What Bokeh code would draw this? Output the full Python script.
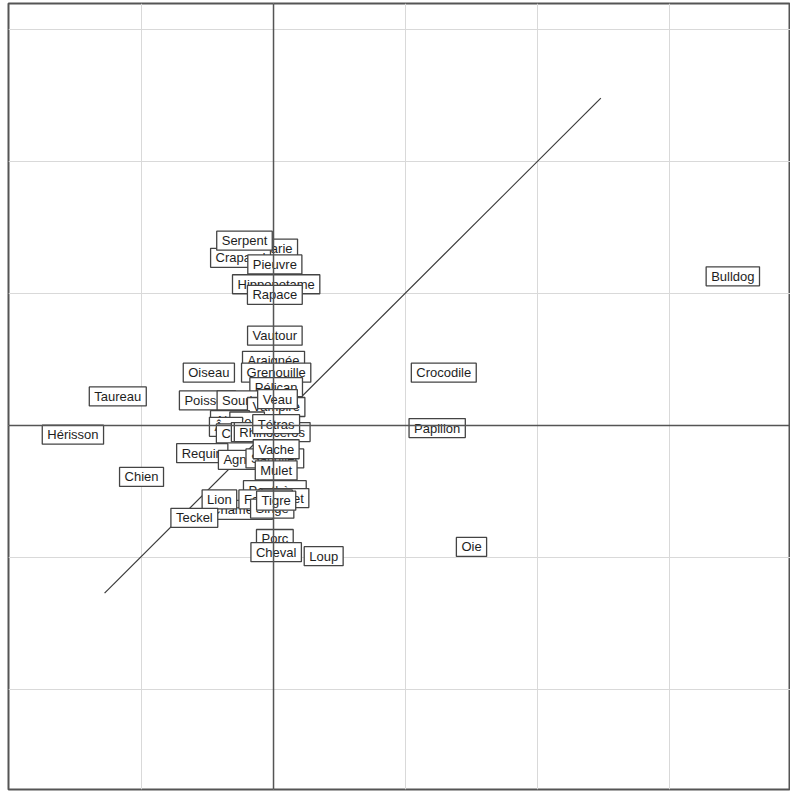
from bokeh.plotting import figure
from bokeh.models import ColumnDataSource, Span, FixedTicker, Range1d
from bokeh.core.properties import value
from bokeh.embed import file_html
from bokeh.resources import INLINE

# Labels and coordinates (in grid units; one grid cell = 1)
names = ["Otarie", "Crapaud", "Serpent", "Hippopotame", "Pieuvre", "Rapace", "Vautour",
         "Araignée", "Grenouille", "Pélican", "Oiseau", "Taureau", "Poisson", "Souris",
         "Vampire", "Veau", "Hérisson", "Aigle", "Cerf", "Âne", "Castor", "Renard", "Rhinocéros", "Tétras",
         "Requin", "Agneau", "Sanglier", "Vache", "Mulet", "Chien", "Panthère", "Chameau",
         "Lion", "Teckel", "Poulet", "Faucon", "Singe", "Tigre", "Porc", "Cheval", "Loup",
         "Crocodile", "Papillon", "Oie", "Bulldog"]
xs = [0.01, -0.25, -0.22, 0.02, 0.01, 0.01, 0.01,
      0.00, 0.02, 0.02, -0.49, -1.18, -0.50, -0.25,
      0.02, 0.03, -1.52, -0.33, -0.20, -0.36, -0.25, -0.12, -0.01, 0.02,
      -0.54, -0.21, 0.01, 0.02, 0.02, -1.00, 0.01, -0.26,
      -0.41, -0.60, 0.09, -0.06, -0.01, 0.02, 0.01, 0.02, 0.38,
      1.29, 1.24, 1.50, 3.48]
ys = [1.34, 1.27, 1.40, 1.07, 1.22, 0.99, 0.68,
      0.49, 0.40, 0.29, 0.40, 0.22, 0.19, 0.19,
      0.14, 0.20, -0.07, 0.04, 0.03, -0.01, -0.06, -0.05, -0.05, 0.01,
      -0.21, -0.26, -0.25, -0.18, -0.34, -0.39, -0.49, -0.64,
      -0.56, -0.70, -0.55, -0.56, -0.63, -0.57, -0.86, -0.96, -0.99,
      0.40, -0.02, -0.92, 1.13]

# Diagonal line endpoints
line_x = [-1.28, 2.48]
line_y = [-1.27, 2.48]

grid_x = [-1, 0, 1, 2, 3]
grid_y = [-2, -1, 0, 1, 2, 3]

p = figure(width=790, height=791, output_backend="svg", toolbar_location=None,
           x_range=Range1d(-2.008, 3.917), y_range=Range1d(-2.758, 3.197),
           min_border=0, min_border_left=8, min_border_top=3, min_border_bottom=2,
           background_fill_color="white", border_fill_color="white")
p.xaxis.visible = False
p.yaxis.visible = False
p.xgrid.ticker = FixedTicker(ticks=grid_x)
p.ygrid.ticker = FixedTicker(ticks=grid_y)
p.xgrid.grid_line_color = "#d9d9d9"
p.ygrid.grid_line_color = "#d9d9d9"
p.xgrid.grid_line_width = 1
p.ygrid.grid_line_width = 1
p.outline_line_color = "#555555"
p.outline_line_width = 2

p.add_layout(Span(location=0, dimension="height", line_color="#555555", line_width=1.5))
p.add_layout(Span(location=0, dimension="width", line_color="#555555", line_width=1.5))

p.line(line_x, line_y, line_color="#3a3a3a", line_width=1.2)

src = ColumnDataSource(dict(x=xs, y=ys, name=names))
p.text(x="x", y="y", text="name", source=src,
       text_align="center", text_baseline="middle",
       text_font=value("Liberation Sans"), text_font_size="13px",
       text_color="#1e1e1e",
       background_fill_color="white",
       border_line_color="#444444", border_line_width=1.3,
       padding=(5, 2))

open("out.html", "w").write(file_html(p, INLINE))
